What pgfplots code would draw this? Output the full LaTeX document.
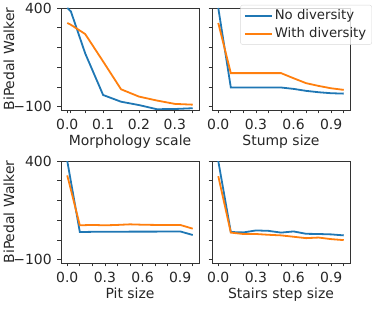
\documentclass[border=0pt]{standalone}
\usepackage{pgfplots}
\pgfplotsset{compat=1.18}
\usepackage{fontspec}
\setmainfont{DejaVu Sans}
\definecolor{tabblue}{HTML}{1F77B4}
\definecolor{taborange}{HTML}{FF7F0E}
\definecolor{spine}{HTML}{333333}
\begin{document}
\fontsize{14}{16}\selectfont
\begin{tikzpicture}
\useasboundingbox (0bp,0bp) rectangle (374bp,312bp);
\pgfplotsset{
  every axis/.append style={
    scale only axis, width=138bp, height=102bp, anchor=south west,
    ymin=-117, ymax=400,
    ytick={-100,0,100,200,300,400},
    axis line style={spine, line width=0.9pt},
    tick style={spine, line width=0.8pt},
    tick align=outside, major tick length=3.5bp,
    xtick pos=bottom, ytick pos=left,
    /pgf/number format/assume math mode=true,
    tick label style={font=\fontsize{14}{16}\selectfont, text=black!85},
    label style={font=\fontsize{14}{16}\selectfont, text=black!85},
    xticklabel style={yshift=-1bp},
    yticklabel style={xshift=-1bp},
    xlabel style={yshift=4bp},
    ylabel style={at={(axis description cs:-0.377,0.5)}, anchor=center},
  },
  nod/.style={tabblue, line width=1.8bp},
  wd/.style={taborange, line width=1.8bp},
}
% top-left: Morphology scale
\begin{axis}[at={(61bp,202bp)},
  xmin=-0.0175, xmax=0.3675,
  xtick={0,0.01,0.05,0.1,0.15,0.2,0.25,0.3,0.35},
  xticklabels={0.0,,,0.1,,0.2,,0.3,},
  yticklabels={−100,,,,,400},
  xlabel={Morphology scale}, ylabel={BiPedal Walker}]
\addplot[nod] coordinates {(0,400) (0.01,383) (0.05,170) (0.1,-41) (0.15,-75) (0.2,-92) (0.25,-113) (0.3,-112) (0.35,-108)};
\addplot[wd] coordinates {(0,324) (0.01,315) (0.05,268) (0.1,129) (0.15,-12) (0.2,-49) (0.25,-69) (0.3,-86) (0.35,-90)};
\end{axis}
% top-right: Stump size
\begin{axis}[at={(212bp,202bp)},
  xmin=-0.05, xmax=1.05,
  xtick={0,0.1,0.2,0.3,0.4,0.5,0.6,0.7,0.8,0.9,1.0},
  xticklabels={0.0,,,0.3,,,0.6,,,0.9,},
  yticklabels={},
  xlabel={Stump size},
  legend style={at={(rel axis cs:1.159,1.03)}, anchor=north east,
    fill=white, fill opacity=0.8, text opacity=1, draw=black!15, rounded corners=2bp,
    font=\fontsize{13.3}{15}\selectfont, text=black!85,
    inner xsep=3.5bp, inner ysep=2.5bp, row sep=2bp},
  legend cell align=left,
  legend image code/.code={\draw[#1] (0cm,0cm) -- (0.95cm,0cm);}]
\addplot[nod] coordinates {(0,400) (0.1,-3) (0.2,-3) (0.3,-3) (0.4,-3) (0.5,-3) (0.6,-10) (0.7,-20) (0.8,-27) (0.9,-32) (1.0,-34)};
\addplot[wd] coordinates {(0,324) (0.1,70) (0.2,70) (0.3,70) (0.4,70) (0.5,70) (0.6,44) (0.7,19) (0.8,5) (0.9,-7) (1.0,-15)};
\legend{No diversity, With diversity}
\end{axis}
% bottom-left: Pit size
\begin{axis}[at={(61bp,49bp)},
  xmin=-0.05, xmax=1.05,
  xtick={0,0.1,0.2,0.3,0.4,0.5,0.6,0.7,0.8,0.9,1.0},
  xticklabels={0.0,,,0.3,,,0.6,,,0.9,},
  yticklabels={−100,,,,,400},
  xlabel={Pit size}, ylabel={BiPedal Walker}]
\addplot[nod] coordinates {(0,400) (0.1,40) (0.2,41) (0.3,41) (0.4,41) (0.5,42) (0.6,42) (0.7,42) (0.8,43) (0.9,43) (1.0,25)};
\addplot[wd] coordinates {(0,327) (0.1,74) (0.2,76) (0.3,74) (0.4,76) (0.5,79) (0.6,77) (0.7,76) (0.8,76) (0.9,76) (1.0,57)};
\end{axis}
% bottom-right: Stairs step size
\begin{axis}[at={(212bp,49bp)},
  xmin=-0.05, xmax=1.05,
  xtick={0,0.1,0.2,0.3,0.4,0.5,0.6,0.7,0.8,0.9,1.0},
  xticklabels={0.0,,,0.3,,,0.6,,,0.9,},
  yticklabels={},
  xlabel={Stairs step size}]
\addplot[nod] coordinates {(0,400) (0.1,40) (0.2,38) (0.3,48) (0.4,46) (0.5,37) (0.6,43) (0.7,31) (0.8,30) (0.9,28) (1.0,23)};
\addplot[wd] coordinates {(0,323) (0.1,37) (0.2,30) (0.3,30) (0.4,26) (0.5,23) (0.6,16) (0.7,9) (0.8,12) (0.9,4) (1.0,-1)};
\end{axis}
\end{tikzpicture}
\end{document}
